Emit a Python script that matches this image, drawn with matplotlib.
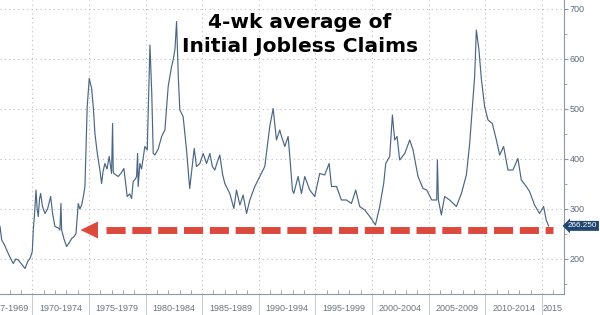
import numpy as np
import matplotlib.pyplot as plt
from matplotlib.transforms import blended_transform_factory

# 4-wk average of initial jobless claims (thousands)
years = [1967.15, 1967.30, 1967.55, 1967.74, 1968.00, 1968.32, 1968.55, 1968.76,
         1969.05, 1969.36, 1969.60, 1969.80, 1970.00, 1970.09, 1970.20, 1970.33,
         1970.43, 1970.53, 1970.64, 1970.74, 1970.90, 1971.12, 1971.35, 1971.62,
         1971.80, 1972.00, 1972.30, 1972.44, 1972.53, 1972.59, 1972.80, 1973.03,
         1973.25, 1973.48, 1973.70, 1973.86, 1974.06, 1974.20, 1974.36, 1974.55,
         1974.65, 1974.85, 1975.03, 1975.15, 1975.24, 1975.40, 1975.53, 1975.75,
         1975.97, 1976.12, 1976.25, 1976.41, 1976.60, 1976.79, 1976.95, 1977.00,
         1977.09, 1977.15, 1977.21, 1977.59, 1977.85, 1978.09, 1978.25, 1978.38,
         1978.60, 1978.77, 1978.91, 1979.10, 1979.21, 1979.30, 1979.35, 1979.50,
         1979.65, 1979.94, 1980.15, 1980.39, 1980.55, 1980.68, 1980.83, 1981.12,
         1981.42, 1981.71, 1982.00, 1982.30, 1982.44, 1982.60, 1982.74, 1982.90,
         1983.03, 1983.32, 1983.62, 1983.90, 1984.12, 1984.30, 1984.50, 1984.80,
         1985.09, 1985.39, 1985.68, 1985.90, 1986.12, 1986.35, 1986.56, 1986.80,
         1987.00, 1987.44, 1987.80, 1988.03, 1988.33, 1988.62, 1988.92, 1989.21,
         1989.65, 1990.09, 1990.53, 1990.97, 1991.27, 1991.56, 1991.85, 1992.01,
         1992.30, 1992.59, 1992.74, 1992.97, 1993.09, 1993.47, 1993.77, 1994.06,
         1994.50, 1994.94, 1995.38, 1995.82, 1996.21, 1996.42, 1996.86, 1997.30,
         1997.74, 1998.18, 1998.56, 1998.91, 1999.35, 1999.80, 2000.30, 2000.68,
         2001.03, 2001.21, 2001.56, 2001.80, 2002.00, 2002.21, 2002.44, 2002.89,
         2003.33, 2003.62, 2004.06, 2004.50, 2004.83, 2005.27, 2005.71, 2005.77,
         2005.86, 2006.12, 2006.41, 2006.85, 2007.45, 2007.89, 2008.33, 2008.62,
         2008.86, 2009.06, 2009.21, 2009.44, 2009.65, 2009.94, 2010.24, 2010.62,
         2010.98, 2011.27, 2011.62, 2012.00, 2012.44, 2012.88, 2013.18, 2013.62,
         2013.91, 2014.35, 2014.79, 2015.15, 2015.38, 2015.59]
claims = [265, 238, 228, 218, 205, 191, 200, 198,
          190, 181, 195, 201, 215, 258, 290, 338,
          300, 285, 320, 331, 305, 291, 300, 325,
          290, 265, 262, 258, 311, 258, 240, 225,
          232, 241, 245, 251, 311, 300, 308, 330,
          345, 505, 561, 550, 541, 500, 451, 410,
          378, 351, 375, 391, 380, 405, 380, 371,
          471, 375, 371, 365, 372, 381, 350, 325,
          330, 321, 355, 360, 365, 411, 345, 391,
          380, 425, 418, 628, 531, 411, 408, 420,
          445, 458, 545, 585, 598, 620, 675, 560,
          498, 485, 418, 341, 385, 421, 385, 391,
          411, 391, 411, 385, 378, 395, 408, 370,
          351, 331, 301, 338, 308, 328, 291, 318,
          345, 365, 385, 465, 501, 438, 458, 445,
          425, 445, 405, 338, 331, 365, 331, 365,
          338, 325, 371, 368, 391, 345, 345, 318,
          318, 311, 338, 305, 298, 285, 268, 305,
          351, 391, 405, 488, 438, 445, 398, 411,
          438, 418, 365, 341, 338, 318, 318, 398,
          318, 288, 325, 318, 305, 331, 368, 431,
          505, 565, 658, 618, 561, 505, 478, 471,
          438, 408, 425, 378, 378, 401, 358, 345,
          335, 308, 291, 305, 278, 266.25]

last_value = "266.250"
arrow_level = 258
period_labels = ["1967-1969", "1970-1974", "1975-1979", "1980-1984", "1985-1989",
                 "1990-1994", "1995-1999", "2000-2004", "2005-2009", "2010-2014", "2015"]
period_starts = [1967, 1970, 1975, 1980, 1985, 1990, 1995, 2000, 2005, 2010, 2015]

x_min, x_max = 1967.15, 2016.95
y_min, y_max = 130, 718

fig = plt.figure(figsize=(6, 3.15), dpi=100)
ax = fig.add_axes([0.0, 0.0667, 0.94, 0.9333])

ax.plot(years, claims, color='#4a6684', lw=0.85, zorder=3)

ax.set_xlim(x_min, x_max)
ax.set_ylim(y_min, y_max)

# axes frame
for side in ['left', 'top']:
    ax.spines[side].set_visible(False)
for side in ['right', 'bottom']:
    ax.spines[side].set_color('#8d97a3')
    ax.spines[side].set_linewidth(0.8)

# y axis on the right
ax.yaxis.tick_right()
ax.set_yticks(np.arange(200, 701, 100))
ax.set_yticks(np.arange(150, 701, 100), minor=True)
ax.tick_params(axis='y', which='major', direction='out', length=3, color='#8d97a3',
               labelsize=6.5, labelcolor='#5e6b7a', pad=1)
ax.tick_params(axis='y', which='minor', direction='out', length=2, color='#8d97a3')
for lbl in ax.get_yticklabels():
    lbl.set_fontfamily('Liberation Sans')

# x axis: period separators + yearly ticks
ax.set_xticks(period_starts[1:])
ax.set_xticks(np.arange(1968, 2017), minor=True)
ax.tick_params(axis='x', which='major', direction='out', length=22, color='#c8cdd3',
               labelbottom=False)
ax.tick_params(axis='x', which='minor', direction='in', length=3, color='#8d97a3')

ax.grid(True, which='major', linestyle=(0, (1, 3)), color='#b9bec5', linewidth=0.8)
ax.set_axisbelow(True)

trans = blended_transform_factory(ax.transData, ax.transAxes)
ends = period_starts[1:] + [x_max]
for i, (lab, s, e) in enumerate(zip(period_labels, period_starts, ends)):
    center = (s + e) / 2 if i > 0 else 1967.8
    ax.text(center, -0.05, lab, transform=trans, ha='center', va='center',
            fontsize=6.5, color='#6a7480', family='Liberation Sans', clip_on=False)

# red dashed arrow at current level
tip, head_len, head_half = 1974.25, 1.55, 17
ax.fill([tip, tip + head_len, tip + head_len],
        [arrow_level, arrow_level + head_half, arrow_level - head_half],
        color='#dc4a3d', lw=0, zorder=4)
ax.plot([tip + head_len + 0.7, 2015.95], [arrow_level, arrow_level],
        color='#dc4a3d', lw=5, dashes=(2.75, 0.97), dash_capstyle='butt', zorder=4)

# last value tag
ytrans = blended_transform_factory(ax.transAxes, ax.transData)
ax.text(1.007, 266.25, last_value, transform=ytrans, ha='left', va='center',
        fontsize=5.9, color='white', family='Liberation Sans', clip_on=False,
        bbox=dict(boxstyle='larrow,pad=0.18', fc='#1f4670', ec='none'))

# title
fig.text(0.5, 1 - 22 / 315, "4-wk average of", ha='center', va='center',
         fontsize=14.5, fontweight='bold', color='black')
fig.text(0.5, 1 - 47 / 315, "Initial Jobless Claims", ha='center', va='center',
         fontsize=14.5, fontweight='bold', color='black')

fig.savefig('out.png', dpi=100)
